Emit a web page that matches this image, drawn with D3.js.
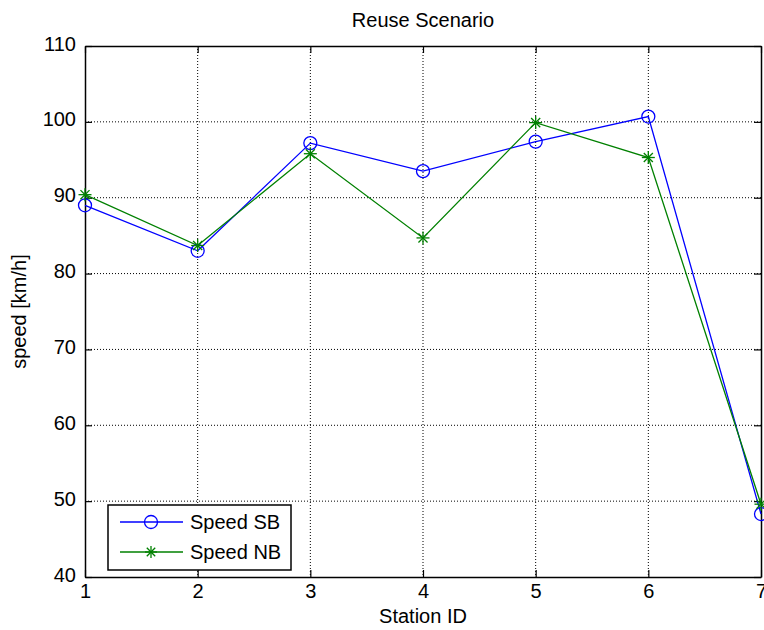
<!DOCTYPE html>
<html><head><meta charset="utf-8">
<script src="https://cdn.jsdelivr.net/npm/d3@7/dist/d3.min.js"></script>
<style>body{margin:0;background:#fff}svg text{font-family:"Liberation Sans",Arial,sans-serif;fill:#000}</style>
</head><body><svg id="c" width="764" height="630"></svg>
<script>
const stations = [1,2,3,4,5,6,7];
const speedSB = [89.0, 83.0, 97.2, 93.5, 97.4, 100.7, 48.3];
const speedNB = [90.4, 83.7, 95.8, 84.7, 99.9, 95.3, 49.6];
const xTicks = [1,2,3,4,5,6,7];
const yTicks = [40,50,60,70,80,90,100,110];
const seriesNames = ["Speed SB","Speed NB"];

const svg = d3.select("#c");
const L=85, R=761, T=46, B=577;
const x = d3.scaleLinear().domain([1,7]).range([L,R]);
const y = d3.scaleLinear().domain([40,110]).range([B,T]);
const fs = 20;

// grid
const g = svg.append("g");
g.selectAll(".gx").data(xTicks.slice(1,-1)).enter().append("line")
 .attr("x1",d=>x(d)).attr("x2",d=>x(d)).attr("y1",T).attr("y2",B)
 .attr("stroke","#000").attr("stroke-width",1).attr("stroke-dasharray","1,2");
g.selectAll(".gy").data(yTicks.slice(1,-1)).enter().append("line")
 .attr("y1",d=>y(d)).attr("y2",d=>y(d)).attr("x1",L).attr("x2",R)
 .attr("stroke","#000").attr("stroke-width",1).attr("stroke-dasharray","1,2");

// axes (ticks inward)
const tl = 7;
const axB = svg.append("g").attr("transform",`translate(0,${B})`)
 .call(d3.axisBottom(x).tickValues(xTicks).tickFormat(d3.format("d")).tickSizeInner(-tl).tickSizeOuter(0).tickPadding(7));
const axT = svg.append("g").attr("transform",`translate(0,${T})`)
 .call(d3.axisTop(x).tickValues(xTicks).tickFormat("").tickSizeInner(-tl).tickSizeOuter(0));
const axL = svg.append("g").attr("transform",`translate(${L},0)`)
 .call(d3.axisLeft(y).tickValues(yTicks).tickFormat(d3.format("d")).tickSizeInner(-tl).tickSizeOuter(0).tickPadding(9));
const axR = svg.append("g").attr("transform",`translate(${R},0)`)
 .call(d3.axisRight(y).tickValues(yTicks).tickFormat("").tickSizeInner(-tl).tickSizeOuter(0));
[axB,axT,axL,axR].forEach(a=>{
  a.selectAll("path").attr("stroke","#000").attr("stroke-width",1.5);
  a.selectAll("line").attr("stroke","#000").attr("stroke-width",1.2);
  a.selectAll("text").attr("font-size",fs).attr("font-family","Liberation Sans, Arial, sans-serif").attr("fill","#000");
});
axL.selectAll("text").attr("dy","0.2em");

// lines
const line = d3.line().x((d,i)=>x(stations[i])).y(d=>y(d));
const blue="#0000ff", green="#008000";
svg.append("path").datum(speedSB).attr("d",line).attr("fill","none").attr("stroke",blue).attr("stroke-width",1.3);
svg.append("path").datum(speedNB).attr("d",line).attr("fill","none").attr("stroke",green).attr("stroke-width",1.3);

function star(sel, cx, cy, r, col){
  const gg = sel.append("g").attr("transform",`translate(${cx},${cy})`).attr("stroke",col).attr("stroke-width",1.3);
  gg.append("line").attr("x1",-r).attr("x2",r).attr("y1",0).attr("y2",0);
  gg.append("line").attr("y1",-r).attr("y2",r).attr("x1",0).attr("x2",0);
  const k=r*0.7;
  gg.append("line").attr("x1",-k).attr("x2",k).attr("y1",-k).attr("y2",k);
  gg.append("line").attr("x1",-k).attr("x2",k).attr("y1",k).attr("y2",-k);
}
svg.selectAll(".mSB").data(speedSB).enter().append("circle")
 .attr("cx",(d,i)=>x(stations[i])).attr("cy",d=>y(d)).attr("r",6.5)
 .attr("fill","none").attr("stroke",blue).attr("stroke-width",1.3);
speedNB.forEach((d,i)=>star(svg, x(stations[i]), y(d), 6.5, green));

// title and labels
svg.append("text").attr("x",(L+R)/2).attr("y",27).attr("text-anchor","middle").attr("font-size",fs).text("Reuse Scenario");
svg.append("text").attr("x",(L+R)/2).attr("y",623).attr("text-anchor","middle").attr("font-size",fs).text("Station ID");
svg.append("text").attr("transform",`translate(26,${(T+B)/2}) rotate(-90)`).attr("text-anchor","middle").attr("font-size",fs).text("speed [km/h]");

// legend
const lg = svg.append("g");
lg.append("rect").attr("x",108).attr("y",505).attr("width",183).attr("height",65)
 .attr("fill","#fff").attr("stroke","#000").attr("stroke-width",1.5);
const rows=[{n:seriesNames[0],c:blue,yy:522},{n:seriesNames[1],c:green,yy:552}];
rows.forEach((r,i)=>{
  lg.append("line").attr("x1",120).attr("x2",183).attr("y1",r.yy).attr("y2",r.yy).attr("stroke",r.c).attr("stroke-width",1.3);
  if(i===0) lg.append("circle").attr("cx",151).attr("cy",r.yy).attr("r",6.5).attr("fill","none").attr("stroke",r.c).attr("stroke-width",1.3);
  else star(lg,151,r.yy,6,r.c);
  lg.append("text").attr("x",190).attr("y",r.yy).attr("dy","0.36em").attr("font-size",fs).text(r.n);
});
</script></body></html>
